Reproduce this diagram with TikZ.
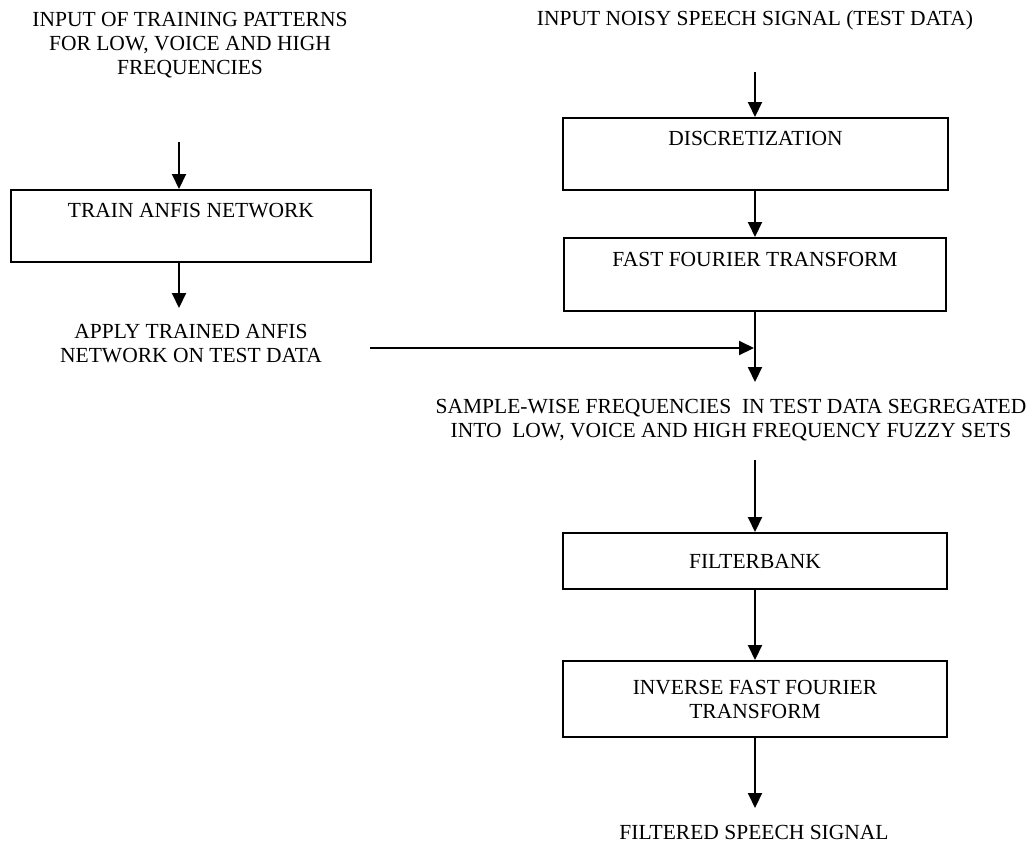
\documentclass[tikz,border=0pt]{standalone}
\usepackage{fontspec}
\setmainfont{Liberation Serif}
\usetikzlibrary{arrows.meta}
\tikzset{
  flowbox/.style={draw, line width=1pt, inner sep=0pt, align=center,
    font=\fontsize{10.75}{12}\selectfont},
  plaintext/.style={inner sep=0pt, align=center,
    font=\fontsize{10.75}{12}\selectfont},
  flow/.style={line width=1pt, -{Triangle[width=7pt,length=7.5pt]}},
  joinline/.style={line width=1pt}
}
\begin{document}
\begin{tikzpicture}[x=0.5pt,y=-0.5pt]
\useasboundingbox (0,0) rectangle (1032,842);
% left column
\node[plaintext] (in1) at (190,45) {INPUT OF TRAINING PATTERNS\\FOR LOW, VOICE AND HIGH\\FREQUENCIES};
\node[flowbox, minimum width=180pt, minimum height=36pt] (train) at (191,226) {TRAIN ANFIS NETWORK\\\strut};
\node[plaintext] (apply) at (191,344) {APPLY TRAINED ANFIS\\NETWORK ON TEST DATA};
% right column
\node[plaintext] (in2) at (755,20) {INPUT NOISY SPEECH SIGNAL (TEST DATA)};
\node[flowbox, minimum width=192.5pt, minimum height=36pt] (disc) at (755.5,154) {DISCRETIZATION\\\strut};
\node[flowbox, minimum width=191pt, minimum height=36.5pt] (fft) at (755,274.5) {FAST FOURIER TRANSFORM\\\strut};
\node[plaintext] (sample) at (731,420) {SAMPLE-WISE FREQUENCIES\ \ IN TEST DATA SEGREGATED\\INTO\ \ LOW, VOICE AND HIGH FREQUENCY FUZZY SETS};
\node[flowbox, minimum width=192pt, minimum height=28pt] (filt) at (755,561) {FILTERBANK};
\node[flowbox, minimum width=192pt, minimum height=38pt] (ifft) at (755,699) {INVERSE FAST FOURIER\\TRANSFORM};
\node[plaintext] (out) at (754,832) {FILTERED SPEECH SIGNAL};
% connector end points
\coordinate (a1) at (179,142);
\coordinate (a2) at (179,308);
\coordinate (b1) at (755,72);
\coordinate (j) at (755,382);
\coordinate (h0) at (370,348);
\coordinate (h1) at (754,348);
\coordinate (c1) at (755,460);
\coordinate (d1) at (755,808);
% connectors
\draw[flow] (a1) -- (a1 |- train.north);
\draw[flow] (a1 |- train.south) -- (a2);
\draw[flow] (b1) -- (b1 |- disc.north);
\draw[flow] (b1 |- disc.south) -- (b1 |- fft.north);
\draw[flow] (b1 |- fft.south) -- (j);
\draw[flow] (h0) -- (h1);
\draw[flow] (c1) -- (c1 |- filt.north);
\draw[flow] (c1 |- filt.south) -- (c1 |- ifft.north);
\draw[flow] (c1 |- ifft.south) -- (d1);
\end{tikzpicture}
\end{document}
